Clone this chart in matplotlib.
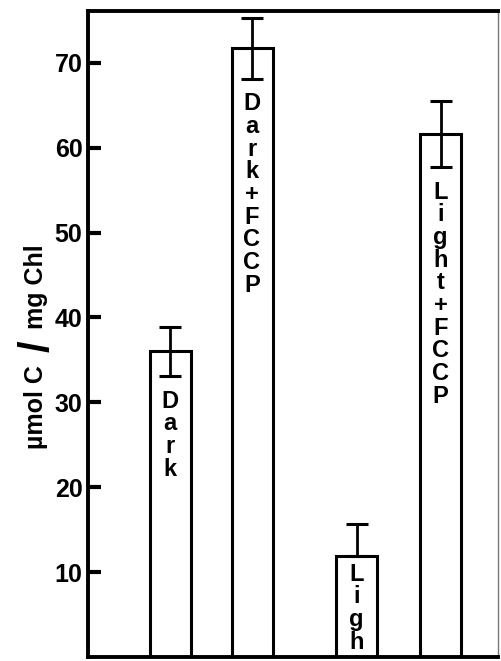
import matplotlib
matplotlib.use("Agg")
import matplotlib.pyplot as plt

# dados
condicoes = ["Dark", "Dark\n+\nFCCP", "Light", "Light\n+\nFCCP"]
valores = [36.0, 71.7, 11.9, 61.6]
erro_sup = [2.9, 3.6, 3.8, 3.9]
erro_inf = [2.9, 3.6, 0.0, 3.9]   # na barra Light so aparece a parte de cima
posicoes = [2.0, 4.0, 6.55, 8.6]
yticks = [10, 20, 30, 40, 50, 60, 70]

plt.rcParams["font.family"] = ["Liberation Sans", "DejaVu Sans"]
plt.rcParams["font.weight"] = "bold"

fig = plt.figure(figsize=(5.02, 6.61), dpi=100)
ax = fig.add_axes([88 / 502, 4 / 661, 410 / 502, 646 / 661])

ax.bar(posicoes, valores, width=1.0, color="white", edgecolor="black",
       linewidth=2.2, zorder=2)
ax.errorbar(posicoes, valores, yerr=[erro_inf, erro_sup], fmt="none",
            ecolor="black", elinewidth=2.0, capsize=8, capthick=2.2, zorder=3)

# texto vertical dentro das barras (uma letra por linha)
for x, v, e, nome in zip(posicoes, valores, erro_inf, condicoes):
    linhas = []
    for parte in nome.split("\n"):
        linhas.extend(list(parte))
    txt = "\n".join(linhas)
    topo = v - e - (1.6 if e > 0 else 0.8)
    ax.text(x, topo, txt, ha="center", va="top", fontsize=17,
            fontweight="bold", linespacing=0.98, zorder=4, clip_on=True)

ax.set_xlim(0, 10)
ax.set_ylim(0, 76.1)
ax.set_xticks([])
ax.set_yticks(yticks)
ax.set_yticklabels([str(t) for t in yticks], fontsize=18, fontweight="bold")
ax.tick_params(axis="y", direction="in", length=9, width=3, pad=4)

for lado in ["left", "bottom", "top"]:
    ax.spines[lado].set_linewidth(2.8)
ax.spines["right"].set_linewidth(1.0)
ax.spines["right"].set_color("#777777")

# rotulo do eixo y com barra grande
fig.text(36 / 502, 1 - 407 / 661, "\u00b5mol C", rotation=90, ha="center",
         va="center", fontsize=18, fontweight="bold")
fig.text(38 / 502, 1 - 346 / 661, "/", rotation=90, ha="center",
         va="center", fontsize=30, fontweight="bold")
fig.text(36 / 502, 1 - 287 / 661, "mg Chl", rotation=90, ha="center",
         va="center", fontsize=18, fontweight="bold")

fig.savefig("out.png", dpi=100)
